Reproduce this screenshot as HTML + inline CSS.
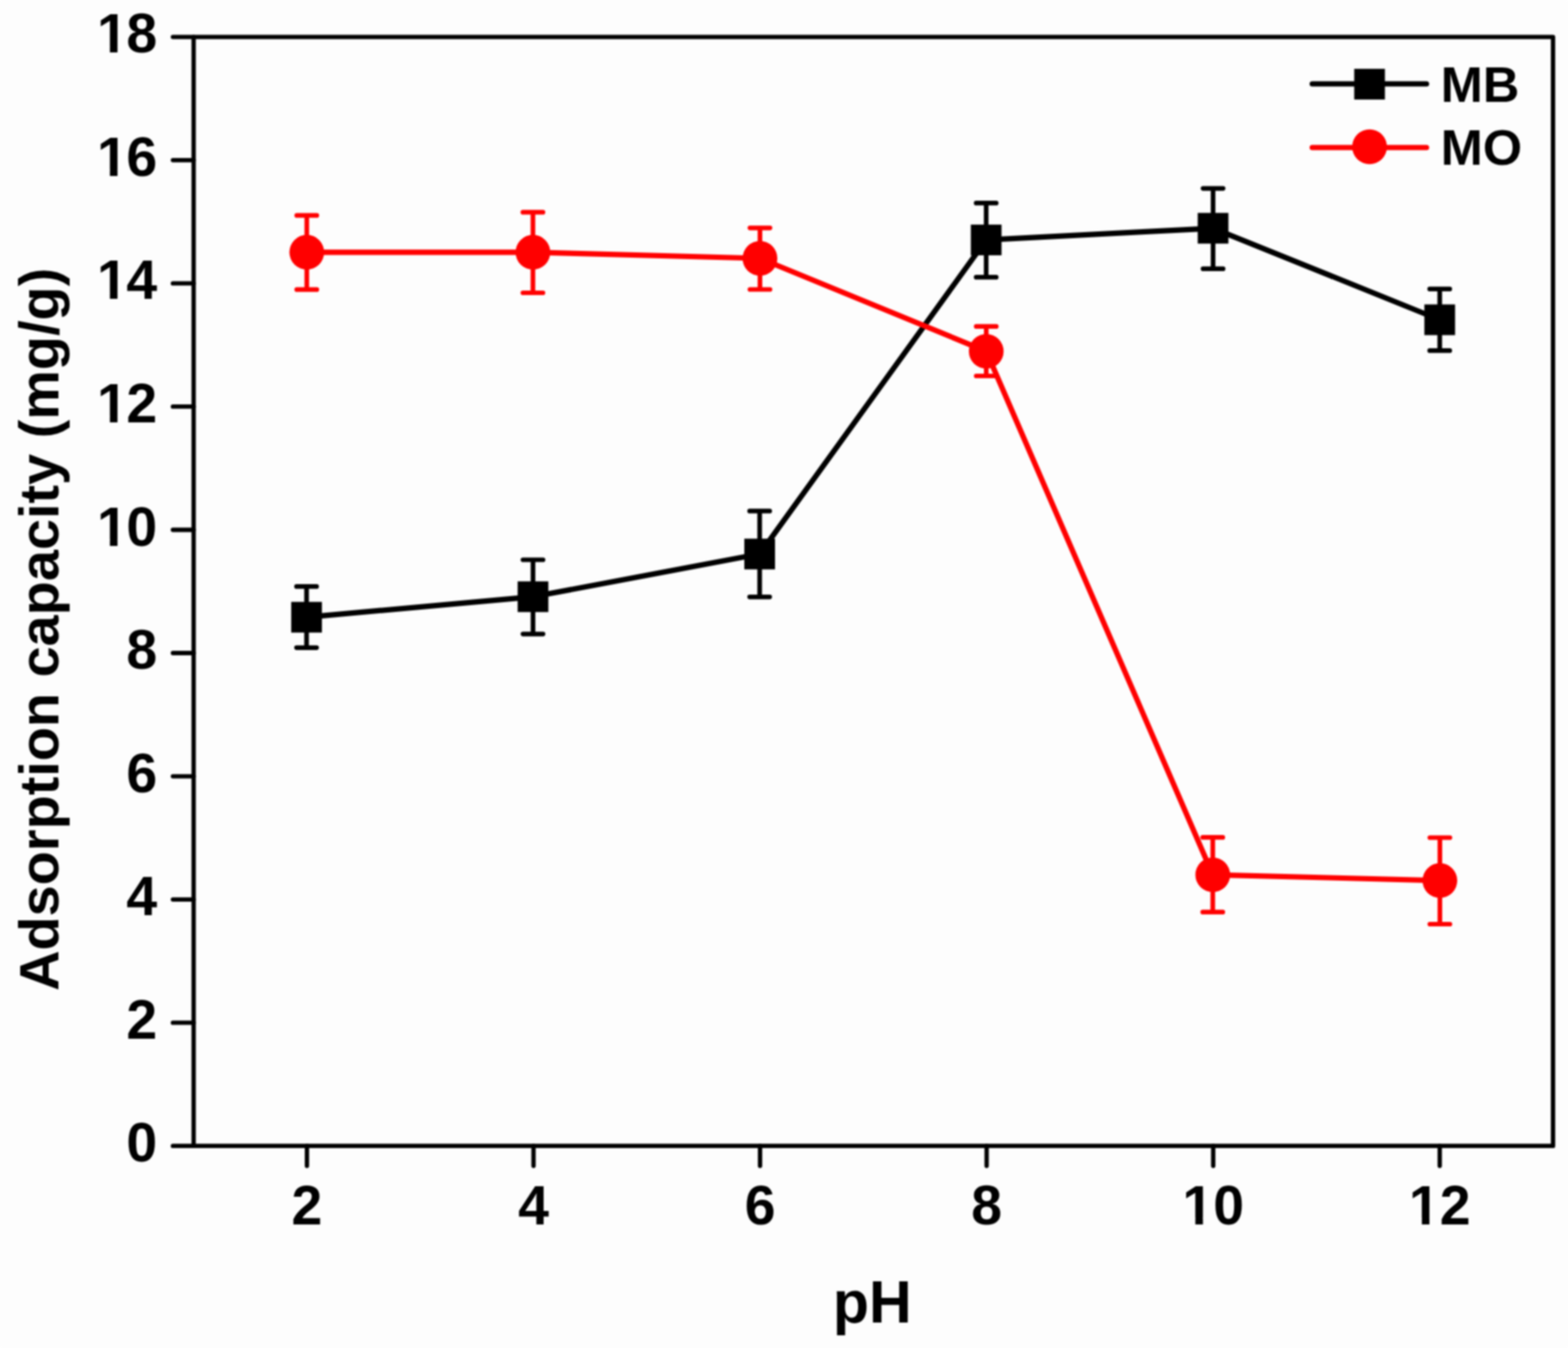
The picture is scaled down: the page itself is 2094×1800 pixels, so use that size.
<!DOCTYPE html>
<html><head><meta charset="utf-8"><title>Adsorption capacity vs pH</title>
<style>html,body{margin:0;padding:0;background:#fdfdfd;}body{width:2094px;height:1800px;overflow:hidden;}svg{display:block;filter:blur(1.2px);}</style>
</head><body>
<svg width="2094" height="1800" viewBox="0 0 2094 1800">
<rect width="2094" height="1800" fill="#fdfdfd"/>
<rect x="258.6" y="49.3" width="1815.4" height="1480.9" fill="none" stroke="#000" stroke-width="5.8" stroke-linejoin="round"/>
<path d="M258.6,1530.2H230.9M258.6,1365.7H230.9M258.6,1201.1H230.9M258.6,1036.6H230.9M258.6,872.0H230.9M258.6,707.5H230.9M258.6,542.9H230.9M258.6,378.4H230.9M258.6,213.8H230.9M258.6,49.3H230.9M409.9,1530.2V1556.8M712.5,1530.2V1556.8M1015.0,1530.2V1556.8M1317.6,1530.2V1556.8M1620.2,1530.2V1556.8M1922.7,1530.2V1556.8" stroke="#000" stroke-width="5.8" stroke-linecap="round" fill="none"/>
<g font-family="'Liberation Sans', Arial, sans-serif" font-weight="bold" font-size="74" fill="#000" text-anchor="end">
<text x="210" y="1551.2">0</text>
<text x="210" y="1386.7">2</text>
<text x="210" y="1222.1">4</text>
<text x="210" y="1057.6">6</text>
<text x="210" y="893.0">8</text>
<text x="127.69" y="728.5" text-anchor="start"><tspan dx="1.8">1</tspan><tspan dx="-1.8">0</tspan></text>
<text x="127.69" y="563.9" text-anchor="start"><tspan dx="1.8">1</tspan><tspan dx="-1.8">2</tspan></text>
<text x="127.69" y="399.4" text-anchor="start"><tspan dx="1.8">1</tspan><tspan dx="-1.8">4</tspan></text>
<text x="127.69" y="234.8" text-anchor="start"><tspan dx="1.8">1</tspan><tspan dx="-1.8">6</tspan></text>
<text x="127.69" y="70.3" text-anchor="start"><tspan dx="1.8">1</tspan><tspan dx="-1.8">8</tspan></text>
</g>
<g font-family="'Liberation Sans', Arial, sans-serif" font-weight="bold" font-size="74" fill="#000" text-anchor="middle">
<text x="409.9" y="1635">2</text>
<text x="712.5" y="1635">4</text>
<text x="1015.0" y="1635">6</text>
<text x="1317.6" y="1635">8</text>
<text x="1620.2" y="1635">10</text>
<text x="1922.7" y="1635">12</text>
</g>
<g fill="#fdfdfd"><rect x="133.15" y="719.95" width="13.61" height="9.55"/><rect x="156.91" y="719.95" width="12.67" height="9.55"/><rect x="133.15" y="555.35" width="13.61" height="9.55"/><rect x="156.91" y="555.35" width="12.67" height="9.55"/><rect x="133.15" y="390.85" width="13.61" height="9.55"/><rect x="156.91" y="390.85" width="12.67" height="9.55"/><rect x="133.15" y="226.25" width="13.61" height="9.55"/><rect x="156.91" y="226.25" width="12.67" height="9.55"/><rect x="133.15" y="61.75" width="13.61" height="9.55"/><rect x="156.91" y="61.75" width="12.67" height="9.55"/><rect x="1582.71" y="1626.45" width="13.61" height="9.55"/><rect x="1606.47" y="1626.45" width="12.67" height="9.55"/><rect x="1885.21" y="1626.45" width="13.61" height="9.55"/><rect x="1908.97" y="1626.45" width="12.67" height="9.55"/></g>
<polyline points="409.4,824.2 711.8,796.8 1014.5,739.8 1317.0,320.4 1620.0,304.8 1922.7,427.0" fill="none" stroke="#000" stroke-width="7.2" stroke-linejoin="round"/>
<path d="M409.4,783.2V864.8M396.0,783.2H422.79999999999995M396.0,864.8H422.79999999999995M711.8,747.5V846.6M698.4,747.5H725.1999999999999M698.4,846.6H725.1999999999999M1014.5,682.4V797.1M1001.1,682.4H1027.9M1001.1,797.1H1027.9M1317.0,271.2V370.2M1303.6,271.2H1330.4M1303.6,370.2H1330.4M1620.0,251.6V358.9M1606.6,251.6H1633.4M1606.6,358.9H1633.4M1922.7,385.9V468.2M1909.3,385.9H1936.1000000000001M1909.3,468.2H1936.1000000000001" fill="none" stroke="#000" stroke-width="6.2" stroke-linecap="round"/>
<rect x="388.9" y="803.7" width="41.0" height="41.0" fill="#000"/>
<rect x="691.3" y="776.3" width="41.0" height="41.0" fill="#000"/>
<rect x="994.0" y="719.3" width="41.0" height="41.0" fill="#000"/>
<rect x="1296.5" y="299.9" width="41.0" height="41.0" fill="#000"/>
<rect x="1599.5" y="284.3" width="41.0" height="41.0" fill="#000"/>
<rect x="1902.2" y="406.5" width="41.0" height="41.0" fill="#000"/>
<polyline points="409.7,336.8 711.7,336.8 1014.9,345.0 1317.1,469.1 1619.6,1168.1 1922.9,1175.8" fill="none" stroke="#f00" stroke-width="7.2" stroke-linejoin="round"/>
<path d="M409.7,287.7V386.7M396.3,287.7H423.09999999999997M396.3,386.7H423.09999999999997M711.7,283.4V391.0M698.3000000000001,283.4H725.1M698.3000000000001,391.0H725.1M1014.9,304.3V386.5M1001.5,304.3H1028.3M1001.5,386.5H1028.3M1317.1,435.9V502.0M1303.6999999999998,435.9H1330.5M1303.6999999999998,502.0H1330.5M1619.6,1118.2V1217.9M1606.1999999999998,1118.2H1633.0M1606.1999999999998,1217.9H1633.0M1922.9,1118.5V1234.0M1909.5,1118.5H1936.3000000000002M1909.5,1234.0H1936.3000000000002" fill="none" stroke="#f00" stroke-width="6.2" stroke-linecap="round"/>
<circle cx="409.7" cy="336.8" r="23.2" fill="#f00"/>
<circle cx="711.7" cy="336.8" r="23.2" fill="#f00"/>
<circle cx="1014.9" cy="345.0" r="23.2" fill="#f00"/>
<circle cx="1317.1" cy="469.1" r="23.2" fill="#f00"/>
<circle cx="1619.6" cy="1168.1" r="23.2" fill="#f00"/>
<circle cx="1922.9" cy="1175.8" r="23.2" fill="#f00"/>
<path d="M1752.5,112H1905" stroke="#000" stroke-width="7.2" stroke-linecap="round"/>
<rect x="1808.5" y="91.9" width="41.0" height="41.0" fill="#000"/>
<path d="M1752.5,197H1905" stroke="#f00" stroke-width="7.2" stroke-linecap="round"/>
<circle cx="1829" cy="196" r="23.2" fill="#f00"/>
<g font-family="'Liberation Sans', Arial, sans-serif" font-weight="bold" font-size="67.5" fill="#000">
<text x="1924" y="135.5">MB</text>
<text x="1924" y="219.5">MO</text>
</g>
<text x="1165" y="1766.3" font-family="'Liberation Sans', Arial, sans-serif" font-weight="bold" font-size="79" text-anchor="middle">pH</text>
<text transform="translate(78,840.3) rotate(-90)" font-family="'Liberation Sans', Arial, sans-serif" font-weight="bold" font-size="74.6" text-anchor="middle">Adsorption capacity (mg/g)</text>
</svg>
</body></html>
